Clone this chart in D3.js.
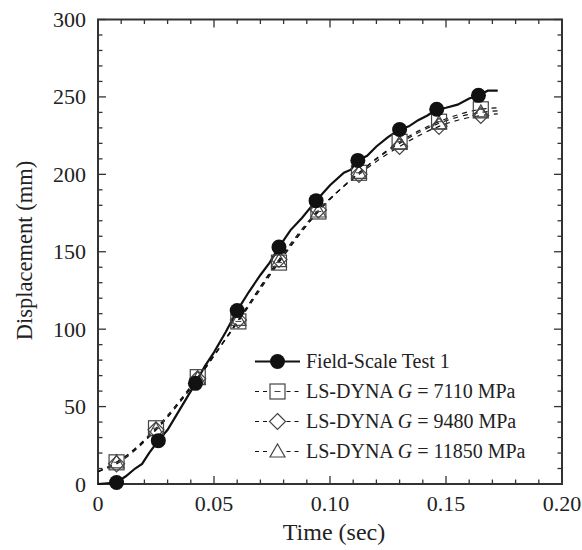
<!DOCTYPE html>
<html>
<head>
<meta charset="utf-8">
<script src="https://cdn.jsdelivr.net/npm/d3@7"></script>
<style>
  body { margin: 0; background: #fff; }
  text { font-family: "Liberation Serif", "DejaVu Serif", serif; fill: #222; }
</style>
</head>
<body>
<div id="chart"></div>
<script>
const W = 582, H = 550;
const margin = {left: 98, top: 19.5, right: 20, bottom: 66};

// field test (solid line) samples
const field_line = [[0,0],[0.004,0.5],[0.008,1],[0.012,5],[0.016,10],[0.019,13],[0.022,20],[0.026,28],[0.030,35],
  [0.034,45],[0.038,55],[0.042,65],[0.046,76],[0.050,85],[0.055,98],[0.060,112],[0.065,124],[0.070,135],
  [0.074,143],[0.078,153],[0.083,164],[0.088,172],[0.094,183],[0.100,193],[0.106,201],[0.109,203],[0.112,209],
  [0.116,212],[0.120,218],[0.125,224],[0.130,229],[0.134,231],[0.138,235],[0.142,238],[0.146,242],[0.150,243],
  [0.155,245],[0.160,249],[0.164,251],[0.168,254],[0.1723,254]];
const field_pts = [[0.008,1],[0.026,28],[0.042,65],[0.060,112],[0.078,153],[0.094,183],[0.112,209],[0.130,229],[0.146,242],[0.164,251]];

// LS-DYNA runs (dashed)
const g7110 = [[0,8],[0.008,14],[0.025,36],[0.043,69],[0.0605,105],[0.078,143],[0.095,176],[0.1125,201],[0.130,221],[0.147,234],[0.165,242],[0.1723,243]];
const g9480 = [[0,8],[0.008,13],[0.025,35],[0.043,68],[0.0605,106],[0.078,145],[0.095,177],[0.1125,200],[0.130,218],[0.147,231],[0.165,238],[0.1723,239]];
const g11850 = [[0,8],[0.008,14],[0.025,35],[0.043,68],[0.0605,106],[0.078,144],[0.095,176],[0.1125,201],[0.130,220],[0.147,233],[0.165,240],[0.1723,241]];

const x_ticks = [0, 0.05, 0.10, 0.15, 0.20];
const x_labels = ["0", "0.05", "0.10", "0.15", "0.20"];
const y_ticks = [0, 50, 100, 150, 200, 250, 300];

const svg = d3.select("#chart").append("svg").attr("width", W).attr("height", H);
const g = svg.append("g").attr("transform", `translate(${margin.left},${margin.top})`);

const x = d3.scaleLinear().domain([0, 0.2]).range([0, 464]);
const y = d3.scaleLinear().domain([0, 300]).range([464.5, 0]);
const pw = 464, ph = 464.5;

const axisColor = "#333";
const minorX = d3.range(0, 0.2001, 0.01), minorY = d3.range(0, 301, 10);

// ticks, inward on all four sides
function tickLen(v, step) { return Math.abs(v / step - Math.round(v / step)) < 1e-6 ? 8 : 4.5; }
minorX.forEach(v => {
  const L = tickLen(v, 0.05);
  g.append("line").attr("x1", x(v)).attr("x2", x(v)).attr("y1", ph).attr("y2", ph - L).attr("stroke", axisColor).attr("stroke-width", 1.3);
  g.append("line").attr("x1", x(v)).attr("x2", x(v)).attr("y1", 0).attr("y2", L).attr("stroke", axisColor).attr("stroke-width", 1.3);
});
minorY.forEach(v => {
  const L = tickLen(v, 50);
  g.append("line").attr("y1", y(v)).attr("y2", y(v)).attr("x1", 0).attr("x2", L).attr("stroke", axisColor).attr("stroke-width", 1.3);
  g.append("line").attr("y1", y(v)).attr("y2", y(v)).attr("x1", pw).attr("x2", pw - L).attr("stroke", axisColor).attr("stroke-width", 1.3);
});

g.append("rect").attr("width", pw).attr("height", ph).attr("fill", "none").attr("stroke", axisColor).attr("stroke-width", 2);

x_ticks.forEach((v, i) => {
  g.append("text").attr("x", x(v)).attr("y", ph + 26.5).attr("text-anchor", "middle").style("font-size", "22px").text(x_labels[i]);
});
y_ticks.forEach(v => {
  g.append("text").attr("x", -12).attr("y", y(v) + 7.5).attr("text-anchor", "end").style("font-size", "22px").text(v);
});

svg.append("text").attr("x", 334).attr("y", 540).attr("text-anchor", "middle").style("font-size", "24px").text("Time (sec)");
svg.append("text").attr("transform", `translate(32,250.5) rotate(-90)`).attr("text-anchor", "middle").style("font-size", "22.5px").text("Displacement (mm)");

const line = d3.line().x(d => x(d[0])).y(d => y(d[1]));
const smooth = d3.line().x(d => x(d[0])).y(d => y(d[1])).curve(d3.curveMonotoneX);

[g7110, g9480, g11850].forEach(s => {
  g.append("path").attr("d", smooth(s)).attr("fill", "none").attr("stroke", "#111").attr("stroke-width", 1.2).attr("stroke-dasharray", "5,5");
});
g.append("path").attr("d", line(field_line)).attr("fill", "none").attr("stroke", "#111").attr("stroke-width", 2.2);

const mk = "#444";
function square(sel, cx, cy) {
  sel.append("rect").attr("x", cx - 7.5).attr("y", cy - 7.5).attr("width", 15).attr("height", 15).attr("fill", "none").attr("stroke", mk).attr("stroke-width", 1.2);
  sel.append("line").attr("x1", cx - 3).attr("x2", cx + 3).attr("y1", cy).attr("y2", cy).attr("stroke", mk).attr("stroke-width", 1);
}
function diamond(sel, cx, cy) {
  sel.append("path").attr("d", `M${cx},${cy - 8}L${cx + 8},${cy}L${cx},${cy + 8}L${cx - 8},${cy}Z`).attr("fill", "none").attr("stroke", mk).attr("stroke-width", 1.2);
}
function triangle(sel, cx, cy) {
  sel.append("path").attr("d", `M${cx},${cy - 7.5}L${cx + 7.5},${cy + 5.5}L${cx - 7.5},${cy + 5.5}Z`).attr("fill", "none").attr("stroke", mk).attr("stroke-width", 1.2);
}
const inner = s => s.slice(1, -1);
inner(g7110).forEach(d => square(g, x(d[0]), y(d[1])));
inner(g9480).forEach(d => diamond(g, x(d[0]), y(d[1])));
inner(g11850).forEach(d => triangle(g, x(d[0]), y(d[1])));

g.selectAll("circle.field").data(field_pts).enter().append("circle")
  .attr("cx", d => x(d[0])).attr("cy", d => y(d[1])).attr("r", 7.5).attr("fill", "#111");

// legend
const legend = [
  {label: "Field-Scale Test 1", type: "field"},
  {label: ["LS-DYNA ", "G", " = 7110 MPa"], type: "square"},
  {label: ["LS-DYNA ", "G", " = 9480 MPa"], type: "diamond"},
  {label: ["LS-DYNA ", "G", " = 11850 MPa"], type: "triangle"}
];
const lx0 = 255, lx1 = 300, lcx = 277.5, ltx = 306;
legend.forEach((d, i) => {
  const ly = 361.5 + i * 30;
  if (d.type == "field") {
    svg.append("line").attr("x1", lx0).attr("x2", lx1).attr("y1", ly).attr("y2", ly).attr("stroke", "#111").attr("stroke-width", 2.2);
    svg.append("circle").attr("cx", lcx).attr("cy", ly).attr("r", 7.5).attr("fill", "#111");
  } else {
    svg.append("line").attr("x1", lx0).attr("x2", lcx - 8).attr("y1", ly).attr("y2", ly).attr("stroke", "#111").attr("stroke-width", 1.2).attr("stroke-dasharray", "4,4");
    svg.append("line").attr("x1", lcx + 9).attr("x2", lx1).attr("y1", ly).attr("y2", ly).attr("stroke", "#111").attr("stroke-width", 1.2).attr("stroke-dasharray", "4,4");
    if (d.type == "square") square(svg, lcx, ly);
    if (d.type == "diamond") diamond(svg, lcx, ly);
    if (d.type == "triangle") triangle(svg, lcx, ly);
  }
  const t = svg.append("text").attr("x", ltx).attr("y", ly + 6.5).style("font-size", "20px");
  if (typeof d.label == "string") t.text(d.label);
  else d.label.forEach((p, j) => t.append("tspan").style("font-style", j == 1 ? "italic" : "normal").text(p));
});
</script>
</body>
</html>
